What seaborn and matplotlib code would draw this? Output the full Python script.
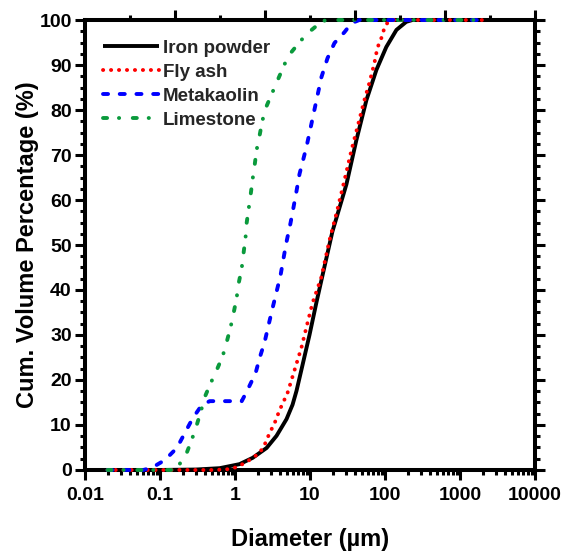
import matplotlib
matplotlib.use("Agg")
import matplotlib.pyplot as plt
import matplotlib.ticker as mticker
import seaborn as sns
import pandas as pd

# ---------------- data ----------------
iron_x = [0.02, 0.1, 0.3, 0.625, 1.15, 1.72, 2.64, 3.58, 4.86, 5.85, 6.61, 7.94, 9.84,
          12.2, 14.7, 19.9, 30.6, 41.5, 56.5, 76.7, 104, 142, 192, 231, 500, 2000]
iron_y = [0, 0, 0.1, 0.4, 1.3, 2.7, 4.9, 7.6, 11.3, 14.5, 17.6, 23.3, 30.0,
          37.3, 43.3, 53.0, 63.5, 73.3, 82.2, 88.9, 94, 97.8, 99.6, 100, 100, 100]

fly_x = [0.02, 0.54, 0.85, 1.08, 1.43, 1.72, 2.13, 2.48, 2.89, 3.37, 3.93, 5.01, 6.22,
         7.71, 9.26, 10.8, 14.2, 18.2, 22.5, 28.8, 35.7, 42.9, 53.1, 61.8, 72.1, 79.1,
         89.4, 98, 107, 125, 2000]
fly_y = [0, 0, 0.2, 0.7, 1.8, 2.7, 3.8, 5.6, 8.2, 10.4, 13.3, 17.1, 22.2,
         27.3, 32.7, 37.1, 42.9, 51.1, 57, 64.4, 71.1, 76.2, 82.2, 86, 90.4, 93.8,
         96, 98.2, 99.3, 100, 100]

meta_x = [0.02, 0.06, 0.078, 0.116, 0.168, 0.214, 0.273, 0.36, 0.46, 1.23, 1.47, 1.88,
          2.13, 2.48, 2.8, 3.17, 3.58, 4.05, 4.44, 4.86, 5.5, 6.03, 6.61, 7.25, 8.97,
          10.5, 12.2, 14.2, 17.1, 21.2, 28.8, 35.7, 45.5, 2000]
meta_y = [0, 0, 0.5, 2.2, 4.9, 8.2, 11.5, 14.4, 15.3, 15.3, 17.8, 21.5,
          24.9, 28.4, 32.2, 36, 39.6, 43.3, 47.1, 50.7, 54.9, 58.4, 62, 65.8, 71.8,
          77.1, 82.2, 87.3, 91.5, 94.9, 97.3, 99.3, 100, 100]

lime_x = [0.02, 0.157, 0.173, 0.227, 0.265, 0.309, 0.349, 0.395, 0.474, 0.57, 0.685,
          0.774, 0.875, 0.959, 1.05, 1.12, 1.23, 1.3, 1.38, 1.43, 1.52, 1.62, 1.72,
          1.83, 1.94, 2.13, 2.33, 2.64, 3.17, 3.81, 4.58, 5.67, 7.71, 10.5, 14.7,
          18.2, 2000]
lime_y = [0, 0, 0.7, 3.8, 6.7, 10, 12.9, 16.2, 19.3, 22.2, 25.3,
          28.4, 31.8, 34.9, 38.2, 41.5, 44.9, 48.2, 51.5, 54.9, 58, 61.3, 64.7,
          67.8, 71.1, 74.4, 77.8, 80.9, 84, 87.1, 90.2, 92.9, 95.6, 97.8, 99.8,
          100, 100]

series_names = ["Iron powder", "Fly ash", "Metakaolin", "Limestone"]
xticks = [0.01, 0.1, 1, 10, 100, 1000, 10000]
xtick_labels = ["0.01", "0.1", "1", "10", "100", "1000", "10000"]
yticks = [0, 10, 20, 30, 40, 50, 60, 70, 80, 90, 100]

# ---------------- styling ----------------
sns.set_theme(style="ticks")
plt.rcParams["font.family"] = ["Liberation Sans", "DejaVu Sans"]
plt.rcParams["font.weight"] = "bold"

colors = ["#000000", "#ff0000", "#0000ff", "#0a9a3c"]
styles = ["-", (0, (0.05, 2.0)), (0, (1.3, 3.0)), (0, (1.05, 3.05, 0.05, 3.5))]
LW = 2.8

fig = plt.figure(figsize=(5.61, 5.56), dpi=100)
ax = fig.add_axes([0.1515, 0.1547, 0.8022, 0.8093])

data = [(iron_x, iron_y), (fly_x, fly_y), (meta_x, meta_y), (lime_x, lime_y)]
for (xs, ys), name, c, ls in zip(data, series_names, colors, styles):
    df = pd.DataFrame({"Diameter": xs, "Cum": ys})
    sns.lineplot(data=df, x="Diameter", y="Cum", ax=ax, color=c, linestyle=ls,
                 lw=LW, label=name, sort=False, estimator=None,
                 dash_capstyle="round", solid_capstyle="butt",
                 solid_joinstyle="round", clip_on=False, zorder=3)

ax.set_xscale("log")
ax.set_xlim(0.01, 10000)
ax.set_ylim(0, 100)
ax.set_xticks(xticks)
ax.set_xticklabels(xtick_labels)
ax.xaxis.set_minor_locator(mticker.LogLocator(base=10, subs=range(2, 10), numticks=20))
ax.xaxis.set_minor_formatter(mticker.NullFormatter())
ax.set_yticks(yticks)
ax.yaxis.set_minor_locator(mticker.MultipleLocator(2.5))

for s in ax.spines.values():
    s.set_linewidth(2.9)
    s.set_color("black")
ax.spines["top"].set_visible(True)
ax.spines["right"].set_visible(True)

ax.tick_params(which="major", direction="out", length=7.5, width=2.2, color="black",
               labelsize=14, right=True, top=False, labelright=False)
ax.tick_params(axis="x", which="major", pad=5)
ax.tick_params(axis="y", which="major", pad=2)
ax.tick_params(which="minor", direction="out", length=3.8, width=2.2, color="black",
               right=True, top=False)
for lbl in ax.get_xticklabels() + ax.get_yticklabels():
    lbl.set_fontweight("bold")
    lbl.set_color("black")

# top axis: unlabelled linear ticks
ax2 = ax.twiny()
ax2.set_xlim(0, 10)
ax2.set_xticks([2, 4, 6, 8, 10])
ax2.xaxis.set_minor_locator(mticker.FixedLocator([1, 3, 5, 7, 9]))
ax2.tick_params(which="major", direction="out", length=7.5, width=2.2, color="black",
                labeltop=False)
ax2.tick_params(which="minor", direction="out", length=3.8, width=2.2, color="black")
for s in ax2.spines.values():
    s.set_visible(False)

ax.set_xlabel("Diameter (µm)", fontsize=17, fontweight="bold", color="black", labelpad=17)
ax.set_ylabel("Cum. Volume Percentage (%)", fontsize=17, fontweight="bold",
              color="black", labelpad=0)

leg = ax.legend(loc="upper left", bbox_to_anchor=(0.01, 0.985), frameon=False,
                handlelength=3.0, handletextpad=0.2, labelspacing=0.36,
                prop={"family": ["Liberation Sans"], "weight": "bold", "size": 13.5},
                borderaxespad=0.3)
for h in leg.get_lines():
    h.set_linewidth(LW)
    h.set_dash_capstyle("round")

fig.savefig("out.png", dpi=100)
